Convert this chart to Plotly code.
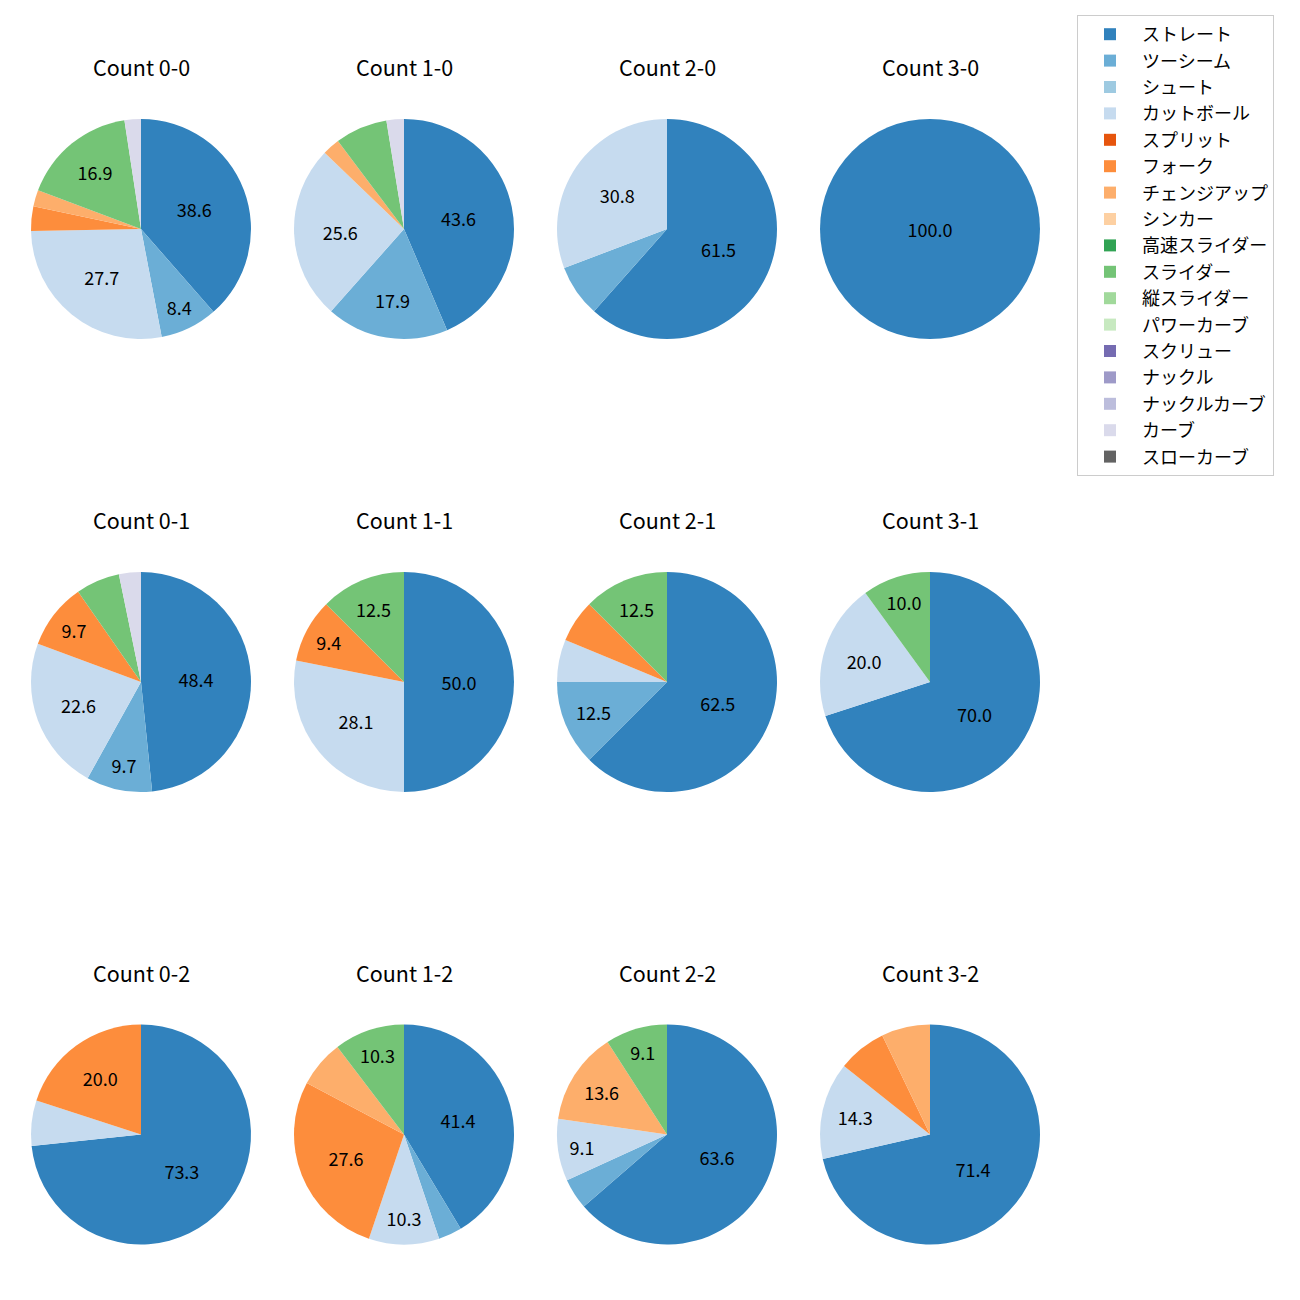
import plotly.graph_objects as go

pitch_types = ["ストレート", "ツーシーム", "シュート", "カットボール", "スプリット", "フォーク",
               "チェンジアップ", "シンカー", "高速スライダー", "スライダー", "縦スライダー",
               "パワーカーブ", "スクリュー", "ナックル", "ナックルカーブ", "カーブ", "スローカーブ"]
colors = ["#3182bd", "#6baed6", "#9ecae1", "#c6dbef", "#e6550d", "#fd8d3c", "#fdae6b",
          "#fdd0a2", "#31a354", "#74c476", "#a1d99b", "#c7e9c0", "#756bb1", "#9e9ac8",
          "#bcbddc", "#dadaeb", "#636363"]

count_names = ["0-0", "1-0", "2-0", "3-0", "0-1", "1-1", "2-1", "3-1", "0-2", "1-2", "2-2", "3-2"]

# pitch counts per ball-strike count (order follows pitch_types)
c_0_0 = [32, 7, 0, 23, 0, 3, 2, 0, 0, 14, 0, 0, 0, 0, 0, 2, 0]
c_1_0 = [17, 7, 0, 10, 0, 0, 1, 0, 0, 3, 0, 0, 0, 0, 0, 1, 0]
c_2_0 = [8, 1, 0, 4, 0, 0, 0, 0, 0, 0, 0, 0, 0, 0, 0, 0, 0]
c_3_0 = [5, 0, 0, 0, 0, 0, 0, 0, 0, 0, 0, 0, 0, 0, 0, 0, 0]
c_0_1 = [15, 3, 0, 7, 0, 3, 0, 0, 0, 2, 0, 0, 0, 0, 0, 1, 0]
c_1_1 = [16, 0, 0, 9, 0, 3, 0, 0, 0, 4, 0, 0, 0, 0, 0, 0, 0]
c_2_1 = [10, 2, 0, 1, 0, 1, 0, 0, 0, 2, 0, 0, 0, 0, 0, 0, 0]
c_3_1 = [7, 0, 0, 2, 0, 0, 0, 0, 0, 1, 0, 0, 0, 0, 0, 0, 0]
c_0_2 = [11, 0, 0, 1, 0, 3, 0, 0, 0, 0, 0, 0, 0, 0, 0, 0, 0]
c_1_2 = [12, 1, 0, 3, 0, 8, 2, 0, 0, 3, 0, 0, 0, 0, 0, 0, 0]
c_2_2 = [14, 1, 0, 2, 0, 0, 3, 0, 0, 2, 0, 0, 0, 0, 0, 0, 0]
c_3_2 = [10, 0, 0, 2, 0, 1, 1, 0, 0, 0, 0, 0, 0, 0, 0, 0, 0]

count_values = [c_0_0, c_1_0, c_2_0, c_3_0, c_0_1, c_1_1, c_2_1, c_3_1,
                c_0_2, c_1_2, c_2_2, c_3_2]

W = H = 1300
OFF = 8  # page body margin
col_centers = [141 - OFF, 404 - OFF, 667 - OFF, 930 - OFF]
row_centers = [229 - OFF, 682 - OFF, 1134.5 - OFF]
title_y = [67 - OFF, 519 - OFF, 972 - OFF]
R = 110
FONT = "Noto Sans CJK JP"

fig = go.Figure()
annotations = []
for i, (name, vals) in enumerate(zip(count_names, count_values)):
    r, c = divmod(i, 4)
    cx, cy = col_centers[c], row_centers[r]
    total = sum(vals)
    texts = [f"{v / total * 100:.1f}" if v / total * 100 >= 8 else "" for v in vals]
    fig.add_trace(go.Pie(
        labels=pitch_types, values=vals, text=texts, textinfo="text",
        textposition="inside", insidetextorientation="horizontal",
        textfont=dict(family=FONT, size=18, color="black"),
        marker=dict(colors=colors, line=dict(width=0)),
        sort=False, direction="clockwise", rotation=0,
        domain=dict(x=[(cx - R) / W, (cx + R) / W], y=[1 - (cy + R) / H, 1 - (cy - R) / H]),
        showlegend=(i == 0), hoverinfo="label+value+percent",
    ))
    annotations.append(dict(text=f"Count {name}", x=cx / W, y=1 - title_y[r] / H,
                            xref="paper", yref="paper", showarrow=False,
                            xanchor="center", yanchor="middle",
                            font=dict(family=FONT, size=21.5, color="black")))

fig.update_layout(
    width=W, height=H, margin=dict(l=0, r=0, t=0, b=0),
    paper_bgcolor="white", plot_bgcolor="white",
    annotations=annotations,
    legend=dict(x=(1077 - OFF) / W, y=1 - (15 - OFF) / H, xanchor="left", yanchor="top",
                font=dict(family=FONT, size=18, color="black"),
                bordercolor="#cccccc", borderwidth=1, bgcolor="white",
                itemwidth=54, traceorder="normal"),
)
fig.write_html("out.html")
